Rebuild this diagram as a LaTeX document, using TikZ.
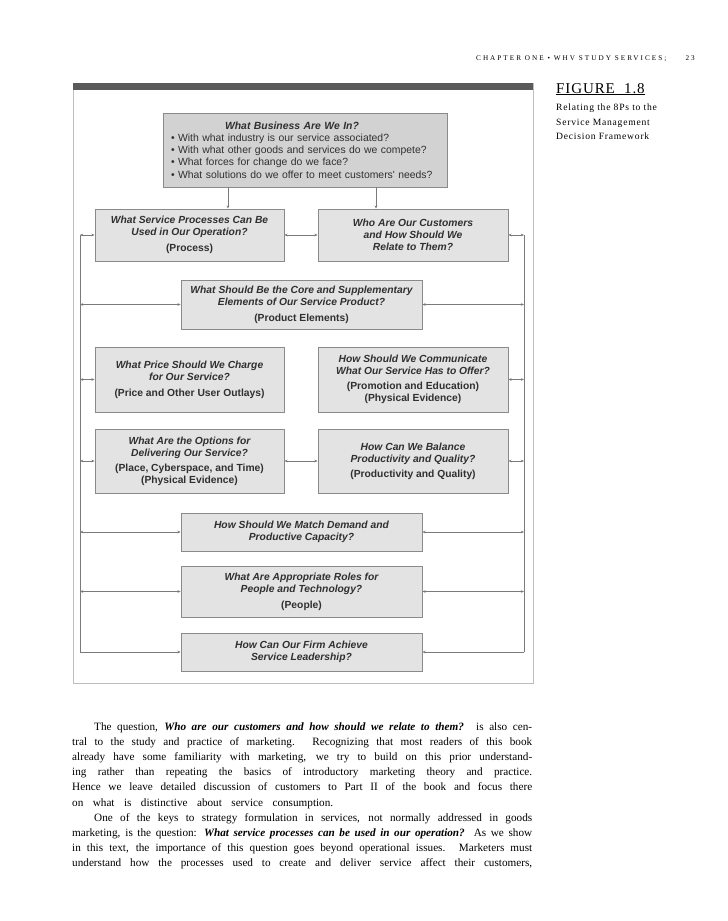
\documentclass[tikz,border=0pt]{standalone}
\usepackage{fontspec}
\setmainfont{Liberation Serif}
\newfontfamily\dsans{Liberation Sans}
\usetikzlibrary{arrows.meta}
\definecolor{boxfill}{HTML}{E3E3E3}
\definecolor{topfill}{HTML}{D2D2D2}
\definecolor{boxline}{HTML}{8A8A8A}
\definecolor{conncol}{HTML}{7A7A7A}
\definecolor{txt}{HTML}{303030}
\definecolor{framecol}{HTML}{BDBDBD}
\definecolor{barcol}{HTML}{5A5A5A}
\begin{document}
\begin{tikzpicture}[x=1pt,y=-1pt,
  qbox/.style={draw=boxline, fill=boxfill, line width=0.8pt, inner sep=0pt, align=center, text=txt,
    font=\dsans\bfseries\itshape\fontsize{10.3}{12}\selectfont},
  sidebox/.style={qbox, minimum width=189pt},
  midbox/.style={qbox, minimum width=241pt},
  conn/.style={draw=conncol, line width=0.6pt},
  tip/.style={-{Stealth[length=3.2pt,width=2.6pt]}},
  dtip/.style={{Stealth[length=3.2pt,width=2.6pt]}-{Stealth[length=3.2pt,width=2.6pt]}},
  body/.style={anchor=base west, inner sep=0pt, font=\fontsize{11.2}{15}\selectfont},
  capline/.style={anchor=base west, inner sep=0pt, font=\addfontfeature{LetterSpace=8}\fontsize{9.6}{14}\selectfont},
]
\fill[white] (0,0) rectangle (728,921);
\useasboundingbox (0,0) rectangle (728,921);

% header
\node[anchor=base west, inner sep=0pt, font=\addfontfeature{LetterSpace=28}\fontsize{7.2}{8}\selectfont] (hdr) at (476,60) {CHAPTER ONE • WHV STUDY SERVICES;};
\node[anchor=base east, inner sep=0pt, font=\addfontfeature{LetterSpace=28}\fontsize{7.2}{8}\selectfont] (pg) at (695,60) {23};

% caption
\node[anchor=base west, inner sep=0pt, font=\addfontfeature{LetterSpace=6}\fontsize{15}{16}\selectfont] (fig) at (556,93) {\underline{FIGURE\ \ 1.8}};
\node[capline] (c1) at (556,110) {Relating the 8Ps to the};
\node[capline] (c2) at (556,125) {Service Management};
\node[capline] (c3) at (556,139.5) {Decision Framework};

% frame
\draw[framecol, line width=0.8pt] (73,83) rectangle (533,683);
\fill[barcol] (73,83) rectangle (533,90);

% boxes
\node[qbox, fill=topfill, minimum width=284pt, minimum height=74pt, text width=268pt, align=left,
  font=\dsans\fontsize{10.4}{12.2}\selectfont] (top) at (305,150)
  {\makebox[242pt]{\bfseries\itshape What Business Are We In?}\\
   • With what industry is our service associated?\\
   • With what other goods and services do we compete?\\
   • What forces for change do we face?\\
   • What solutions do we offer to meet customers' needs?};

\node[sidebox, minimum height=52pt] (proc) at (189.5,235)
  {What Service Processes Can Be\\Used in Our Operation?\\[4pt]{\upshape (Process)}};
\node[sidebox, minimum width=190pt, minimum height=52pt] (cust) at (413,235)
  {Who Are Our Customers\\and How Should We\\Relate to Them?};
\node[midbox, minimum height=49pt] (prod) at (301.5,304.5)
  {What Should Be the Core and Supplementary\\Elements of Our Service Product?\\[4pt]{\upshape (Product Elements)}};
\node[sidebox, minimum height=65pt] (price) at (189.5,379.5)
  {What Price Should We Charge\\for Our Service?\\[4pt]{\upshape (Price and Other User Outlays)}};
\node[sidebox, minimum width=190pt, minimum height=65pt] (promo) at (413,379.5)
  {How Should We Communicate\\What Our Service Has to Offer?\\[3pt]{\upshape (Promotion and Education)}\\{\upshape (Physical Evidence)}};
\node[sidebox, minimum height=64pt] (place) at (189.5,461)
  {What Are the Options for\\Delivering Our Service?\\[3pt]{\upshape (Place, Cyberspace, and Time)}\\{\upshape (Physical Evidence)}};
\node[sidebox, minimum width=190pt, minimum height=64pt] (prodq) at (413,461)
  {How Can We Balance\\Productivity and Quality?\\[3pt]{\upshape (Productivity and Quality)}};
\node[midbox, minimum height=38pt] (match) at (301.5,532)
  {How Should We Match Demand and\\Productive Capacity?};
\node[midbox, minimum height=51pt] (people) at (301.5,591.5)
  {What Are Appropriate Roles for\\People and Technology?\\[4pt]{\upshape (People)}};
\node[midbox, minimum height=38pt] (lead) at (301.5,652)
  {How Can Our Firm Achieve\\Service Leadership?};

% side rails
\coordinate (LT) at (80,235);
\coordinate (LB) at (80,652);
\coordinate (RT) at (524,235);
\coordinate (RB) at (524,652);

% connectors
\draw[conn,tip] ([xshift=-77pt]top.south) -- ([xshift=-77pt]top.south |- proc.north);
\draw[conn,tip] ([xshift=71pt]top.south) -- ([xshift=71pt]top.south |- cust.north);
\draw[conn,dtip] (proc.east) -- (cust.west);
\draw[conn,dtip] (place.east) -- (prodq.west);

\draw[conn] (LT) -- (LB);
\draw[conn] (RT) -- (RB);
\draw[conn,tip] (LB) -- (lead.west);
\draw[conn,tip] (RB) -- (lead.east);

\draw[conn,dtip] (LT) -- (proc.west);
\draw[conn,dtip] (RT) -- (cust.east);
\draw[conn,dtip] (LT |- prod.west) -- (prod.west);
\draw[conn,dtip] (RT |- prod.east) -- (prod.east);
\draw[conn,dtip] (LT |- price.west) -- (price.west);
\draw[conn,dtip] (RT |- promo.east) -- (promo.east);
\draw[conn,dtip] (LT |- place.west) -- (place.west);
\draw[conn,dtip] (RT |- prodq.east) -- (prodq.east);
\draw[conn,dtip] (LT |- match.west) -- (match.west);
\draw[conn,dtip] (RT |- match.east) -- (match.east);
\draw[conn,dtip] (LT |- people.west) -- (people.west);
\draw[conn,dtip] (RT |- people.east) -- (people.east);

% body text
\node[body] (b1) at (94,730.5) {\makebox[438pt][s]{The question, \textbf{\textit{Who are our customers and how should we relate to them?}} is also cen-}};
\node[body] (b2) at (72,745.6) {\makebox[460pt][s]{tral to the study and practice of marketing. Recognizing that most readers of this book}};
\node[body] (b3) at (72,760.7) {\makebox[460pt][s]{already have some familiarity with marketing, we try to build on this prior understand-}};
\node[body] (b4) at (72,775.8) {\makebox[460pt][s]{ing rather than repeating the basics of introductory marketing theory and practice.}};
\node[body] (b5) at (72,790.9) {\makebox[460pt][s]{Hence we leave detailed discussion of customers to Part II of the book and focus there}};
\node[body] (b6) at (72,806) {\makebox[261pt][s]{on what is distinctive about service consumption.}};
\node[body] (b7) at (94,821.1) {\makebox[438pt][s]{One of the keys to strategy formulation in services, not normally addressed in goods}};
\node[body] (b8) at (72,836.2) {\makebox[460pt][s]{marketing, is the question: \textbf{\textit{What service processes can be used in our operation?}} As we show}};
\node[body] (b9) at (72,851.3) {\makebox[460pt][s]{in this text, the importance of this question goes beyond operational issues. Marketers must}};
\node[body] (b10) at (72,866.4) {\makebox[460pt][s]{understand how the processes used to create and deliver service affect their customers,}};
\end{tikzpicture}
\end{document}
